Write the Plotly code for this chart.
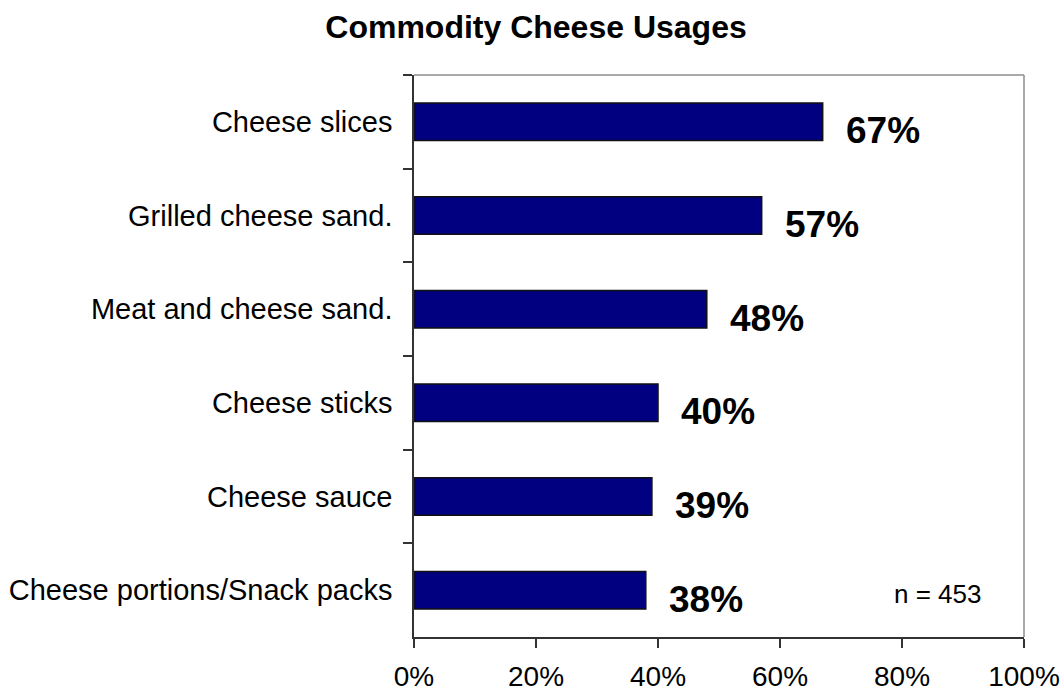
import plotly.graph_objects as go

# Share of respondents using each commodity cheese product (%)
categories = [
    "Cheese slices",
    "Grilled cheese sand.",
    "Meat and cheese sand.",
    "Cheese sticks",
    "Cheese sauce",
    "Cheese portions/Snack packs",
]
usage_pct = [67, 57, 48, 40, 39, 38]
x_ticks = [0, 20, 40, 60, 80, 100]
x_tick_labels = ["0%", "20%", "40%", "60%", "80%", "100%"]
sample_note = "n = 453"
chart_title = "Commodity Cheese Usages"

FONT = "Arial, Liberation Sans, sans-serif"

fig = go.Figure()
fig.add_trace(go.Bar(
    x=usage_pct,
    y=categories,
    orientation="h",
    width=0.4,
    marker=dict(color="#000080", line=dict(color="#111111", width=1.5)),
    hoverinfo="skip",
))

# Bold value labels just past the end of each bar
for cat, v in zip(categories, usage_pct):
    fig.add_annotation(
        x=v, y=cat, xref="x", yref="y",
        text=f"<b>{v}%</b>",
        showarrow=False,
        xanchor="left", yanchor="middle",
        xshift=21, yshift=-9,
        font=dict(family=FONT, size=37, color="#000000"),
    )

fig.add_annotation(
    x=0.933, y=0.0765, xref="paper", yref="paper",
    text=sample_note, showarrow=False,
    xanchor="right", yanchor="middle",
    font=dict(family=FONT, size=26, color="#000000"),
)

# Light frame on the top and right of the plot area
fig.add_shape(type="line", xref="paper", yref="paper", x0=0, x1=1, y0=1, y1=1,
              line=dict(color="#8c8c8c", width=1.5))
fig.add_shape(type="line", xref="paper", yref="paper", x0=1, x1=1, y0=0, y1=1,
              line=dict(color="#8c8c8c", width=1.5))

fig.update_layout(
    width=1063, height=692,
    margin=dict(l=414, r=39, t=75, b=55),
    paper_bgcolor="white", plot_bgcolor="white",
    showlegend=False,
    title=dict(
        text=f"<b>{chart_title}</b>",
        x=536 / 1063, xanchor="center", xref="container",
        y=1 - 27 / 692, yanchor="middle", yref="container",
        font=dict(family=FONT, size=32, color="#000000"),
    ),
    xaxis=dict(
        range=[0, 100],
        tickvals=x_ticks, ticktext=x_tick_labels,
        showgrid=False, zeroline=False,
        showline=True, linecolor="#333333", linewidth=1.5,
        ticks="outside", ticklen=9, tickcolor="#333333", tickwidth=1.5,
        ticklabelstandoff=5,
        tickfont=dict(family=FONT, size=28, color="#000000"),
        automargin=False,
        fixedrange=True,
    ),
    yaxis=dict(
        type="category",
        categoryorder="array", categoryarray=categories,
        autorange="reversed",
        tickson="boundaries",
        showgrid=False, zeroline=False,
        showline=True, linecolor="#333333", linewidth=1.5,
        ticks="outside", ticklen=9, tickcolor="#333333", tickwidth=1.5,
        ticklabelstandoff=14,
        tickfont=dict(family=FONT, size=29, color="#000000"),
        automargin=False,
        fixedrange=True,
    ),
)

fig.write_html("out.html")
